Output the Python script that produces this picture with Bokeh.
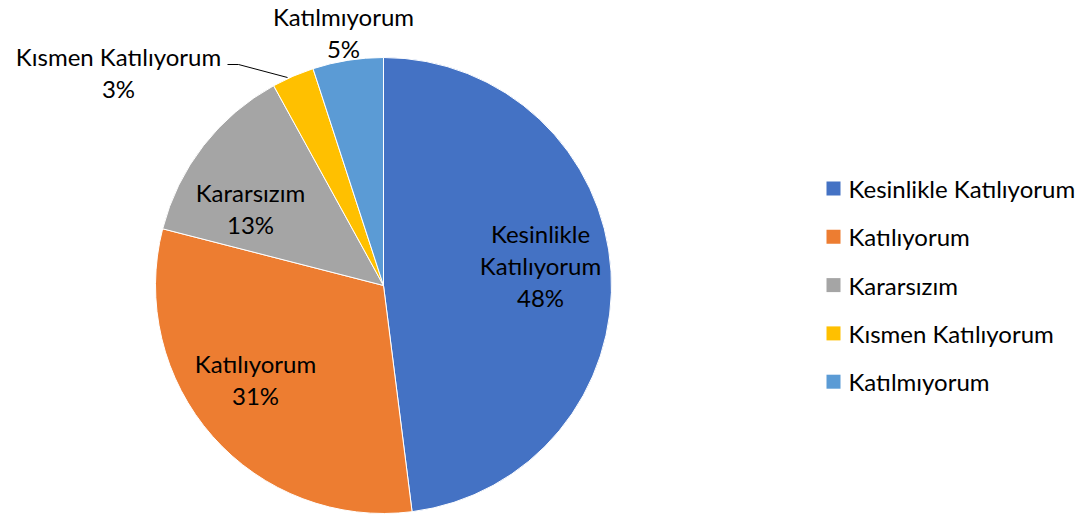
import numpy as np
from bokeh.plotting import figure
from bokeh.models import ColumnDataSource
from bokeh.core.properties import value
from bokeh.embed import file_html
from bokeh.resources import INLINE

categories = ["Kesinlikle Katılıyorum", "Katılıyorum", "Kararsızım", "Kısmen Katılıyorum", "Katılmıyorum"]
percents = [48, 31, 13, 3, 5]
colors = ["#4472C4", "#ED7D31", "#A5A5A5", "#FFC000", "#5B9BD5"]

W, H = 1084, 518
FONT = value("Lato")
FS = "24px"

p = figure(width=W, height=H, x_range=(0, W), y_range=(0, H),
           output_backend="svg", toolbar_location=None, min_border=0)
p.axis.visible = False
p.grid.visible = False
p.outline_line_color = None
p.background_fill_color = "white"

cx, cy, R = 383, 233, 228
vals = np.array(percents, dtype=float)
frac = vals / vals.sum()
cum = np.concatenate([[0], np.cumsum(frac)])
start = np.pi / 2 - 2 * np.pi * cum[:-1]
end = np.pi / 2 - 2 * np.pi * cum[1:]

src = ColumnDataSource(dict(start=start, end=end, color=colors))
p.wedge(x=cx, y=cy, radius=R, start_angle="start", end_angle="end",
        direction="clock", fill_color="color", line_color="white",
        line_width=1, source=src)

# label layout (screen positions, Excel-like placement)
label_pos = [(540, 253), (255, 139), (250, 310), (118, 446), (343, 486)]
label_lines = [["Kesinlikle", "Katılıyorum"], ["Katılıyorum"], ["Kararsızım"],
               ["Kısmen Katılıyorum"], ["Katılmıyorum"]]
lh = 32
for i, (pos, lines) in enumerate(zip(label_pos, label_lines)):
    all_lines = lines + [f"{percents[i]}%"]
    n = len(all_lines)
    ys = [pos[1] + (n - 1) / 2 * lh - k * lh for k in range(n)]
    p.text(x=[pos[0]] * n, y=ys, text=all_lines, text_font=FONT,
           text_font_size=FS, text_align="center", text_baseline="middle",
           text_color="#000000")

# leader line for small slice
p.line(x=[227, 238, 287], y=[454, 454, 441], line_color="#000000", line_width=1)

# legend
lx, ly0, dy = 826, 330, 48.3
for i, (c, name) in enumerate(zip(colors, categories)):
    y = ly0 - i * dy
    p.rect(x=lx + 7, y=y, width=14, height=14, fill_color=c, line_color=None)
    p.text(x=[lx + 22], y=[y], text=[name], text_font=FONT, text_font_size=FS,
           text_align="left", text_baseline="middle", text_color="#000000")

open("out.html", "w").write(file_html(p, INLINE))
